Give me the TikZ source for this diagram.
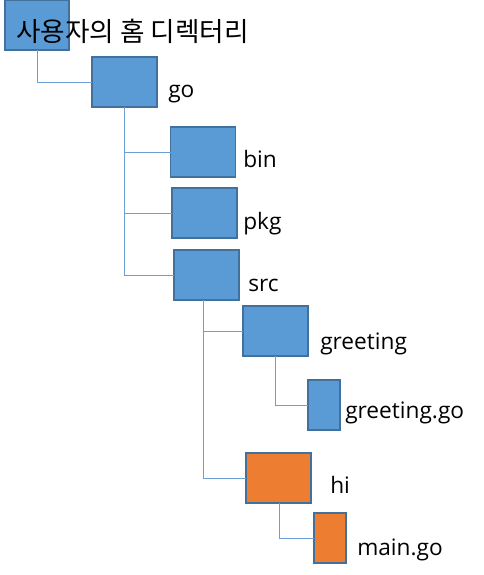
\documentclass[tikz,border=0pt]{standalone}
\usepackage{fontspec}
\setmainfont{Open Sans}
\newfontfamily\kofont{Noto Sans CJK KR}
\definecolor{boxblue}{HTML}{5B9BD5}
\definecolor{boxorange}{HTML}{ED7D31}
\definecolor{boxedge}{HTML}{41719C}
\definecolor{linkblue}{HTML}{6A9FD8}
\begin{document}
\begin{tikzpicture}[x=0.75pt,y=-0.75pt,
  bigbox/.style={draw=boxedge,line width=0.8pt,fill=boxblue,minimum width=48.75pt,minimum height=37.5pt,inner sep=0pt,outer sep=0pt},
  smallbox/.style={bigbox,minimum width=24pt},
  hotbox/.style={fill=boxorange},
  lbl/.style={anchor=base west,inner sep=0pt,font=\fontsize{17pt}{19pt}\selectfont},
  link/.style={draw=linkblue,line width=0.75pt}]
\useasboundingbox (0,0) rectangle (483,575);
\node[bigbox,minimum width=48pt] (root) at (37,25) {};
\node[bigbox] (go) at (124.5,82) {};
\node[bigbox] (bin) at (203,152) {};
\node[bigbox] (pkg) at (204.5,213) {};
\node[bigbox] (src) at (206.5,275) {};
\node[bigbox] (greeting) at (275.5,331) {};
\node[smallbox] (greetinggo) at (324,405) {};
\node[bigbox,hotbox] (hi) at (278.5,478) {};
\node[smallbox,hotbox] (maingo) at (330,538) {};
\draw[link] (root.south) |- (go.west);
\draw[link] (go.south) |- (bin.west);
\draw[link] (go.south) |- (pkg.west);
\draw[link] (go.south) |- (src.west);
\draw[link] ([xshift=-2pt]src.south) |- (greeting.west);
\draw[link] ([xshift=-2pt]src.south) |- (hi.west);
\draw[link] (greeting.south) |- (greetinggo.west);
\draw[link] ([xshift=1pt]hi.south) |- (maingo.west);
\node[lbl,font=\kofont\fontsize{20pt}{22pt}\selectfont] (roottxt) at (16,41) {사용자의 홈 디렉터리};
\node[lbl] (golbl) at (168,97) {go};
\node[lbl] (binlbl) at (243,167) {bin};
\node[lbl] (pkglbl) at (243,229) {pkg};
\node[lbl] (srclbl) at (248,291) {src};
\node[lbl] (greetinglbl) at (320,349) {greeting};
\node[lbl] (greetinggolbl) at (345,418) {greeting.go};
\node[lbl] (hilbl) at (330,493) {hi};
\node[lbl] (maingolbl) at (357,555) {main.go};
\end{tikzpicture}
\end{document}
